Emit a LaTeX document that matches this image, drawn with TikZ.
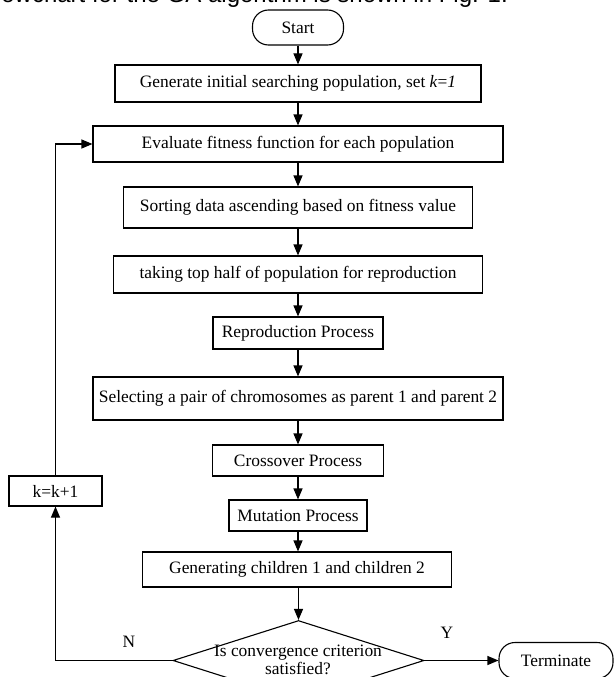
\documentclass[tikz,border=0pt]{standalone}
\usepackage{fontspec}
\setmainfont{Liberation Serif}
\newfontfamily\hdrfont{Liberation Sans}
\usetikzlibrary{shapes.geometric,arrows.meta}
\begin{document}
\begin{tikzpicture}[x=1pt,y=-1pt,
  txt/.style={inner sep=0pt,font=\fontsize{17.4}{18}\selectfont},
  box/.style={txt,draw,line width=1.1pt},
  termbox/.style={box,rounded corners=16pt},
  arr/.style={line width=1.1pt,-{Triangle[length=11pt,width=9pt]}}]
\useasboundingbox (0,0) rectangle (614,677);
\clip (0,0) rectangle (614,677);
\node[anchor=base east,inner sep=0pt,font=\hdrfont\fontsize{24}{24}\selectfont] (hdr) at (508,2.5) {flowchart for the GA algorithm is shown in Fig. 1.};
\node[termbox,minimum width=91pt,minimum height=35pt] (start) at (298,27.5) {Start};
\node[box,minimum width=366pt,minimum height=37pt] (gen) at (298,83.5) {Generate initial searching population, set \textit{k}=\textit{1}};
\node[box,minimum width=410pt,minimum height=36pt] (eval) at (298,144) {Evaluate fitness function for each population};
\node[box,minimum width=349pt,minimum height=41pt] (sort) at (298,207.5) {Sorting data ascending based on fitness value};
\node[box,minimum width=369pt,minimum height=37pt] (take) at (298,274.5) {taking top half of population for reproduction};
\node[box,minimum width=170pt,minimum height=32pt] (repro) at (298,333) {Reproduction Process};
\node[box,minimum width=410pt,minimum height=43pt] (sel) at (298,398.5) {Selecting a pair of chromosomes as parent 1 and parent 2};
\node[box,minimum width=171pt,minimum height=31pt] (cross) at (298,460.5) {Crossover Process};
\node[box,minimum width=138pt,minimum height=31pt] (mut) at (298,515.5) {Mutation Process};
\node[box,minimum width=309pt,minimum height=35pt] (child) at (297,569.5) {Generating children 1 and children 2};
\node[draw,diamond,line width=1.1pt,inner sep=0pt,minimum width=251pt,minimum height=80pt] (dec) at (298.5,660.5) {};
\node[txt,align=center] (dectxt) at (298,660) {Is convergence criterion\\satisfied?};
\node[termbox,minimum width=114pt,minimum height=36pt] (term) at (556,660.5) {Terminate};
\node[box,minimum width=93pt,minimum height=30pt] (kbox) at (55.5,491) {k=k+1};
\node[txt] (nlab) at (129,642) {N};
\node[txt] (ylab) at (447,633) {Y};
\draw[arr] (start) -- (gen);
\draw[arr] (gen) -- (eval);
\draw[arr] (eval) -- (sort);
\draw[arr] (sort) -- (take);
\draw[arr] (take) -- (repro);
\draw[arr] (repro) -- (sel);
\draw[arr] (sel) -- (cross);
\draw[arr] (cross) -- (mut);
\draw[arr] (mut) -- (mut |- child.north);
\draw[arr] (child.south -| dec.north) -- (dec.north);
\draw[arr] (dec.east) -- (term.west);
\draw[arr] (dec.west) -| (kbox.south);
\draw[arr] (kbox.north) |- (eval.west);
\end{tikzpicture}
\end{document}
